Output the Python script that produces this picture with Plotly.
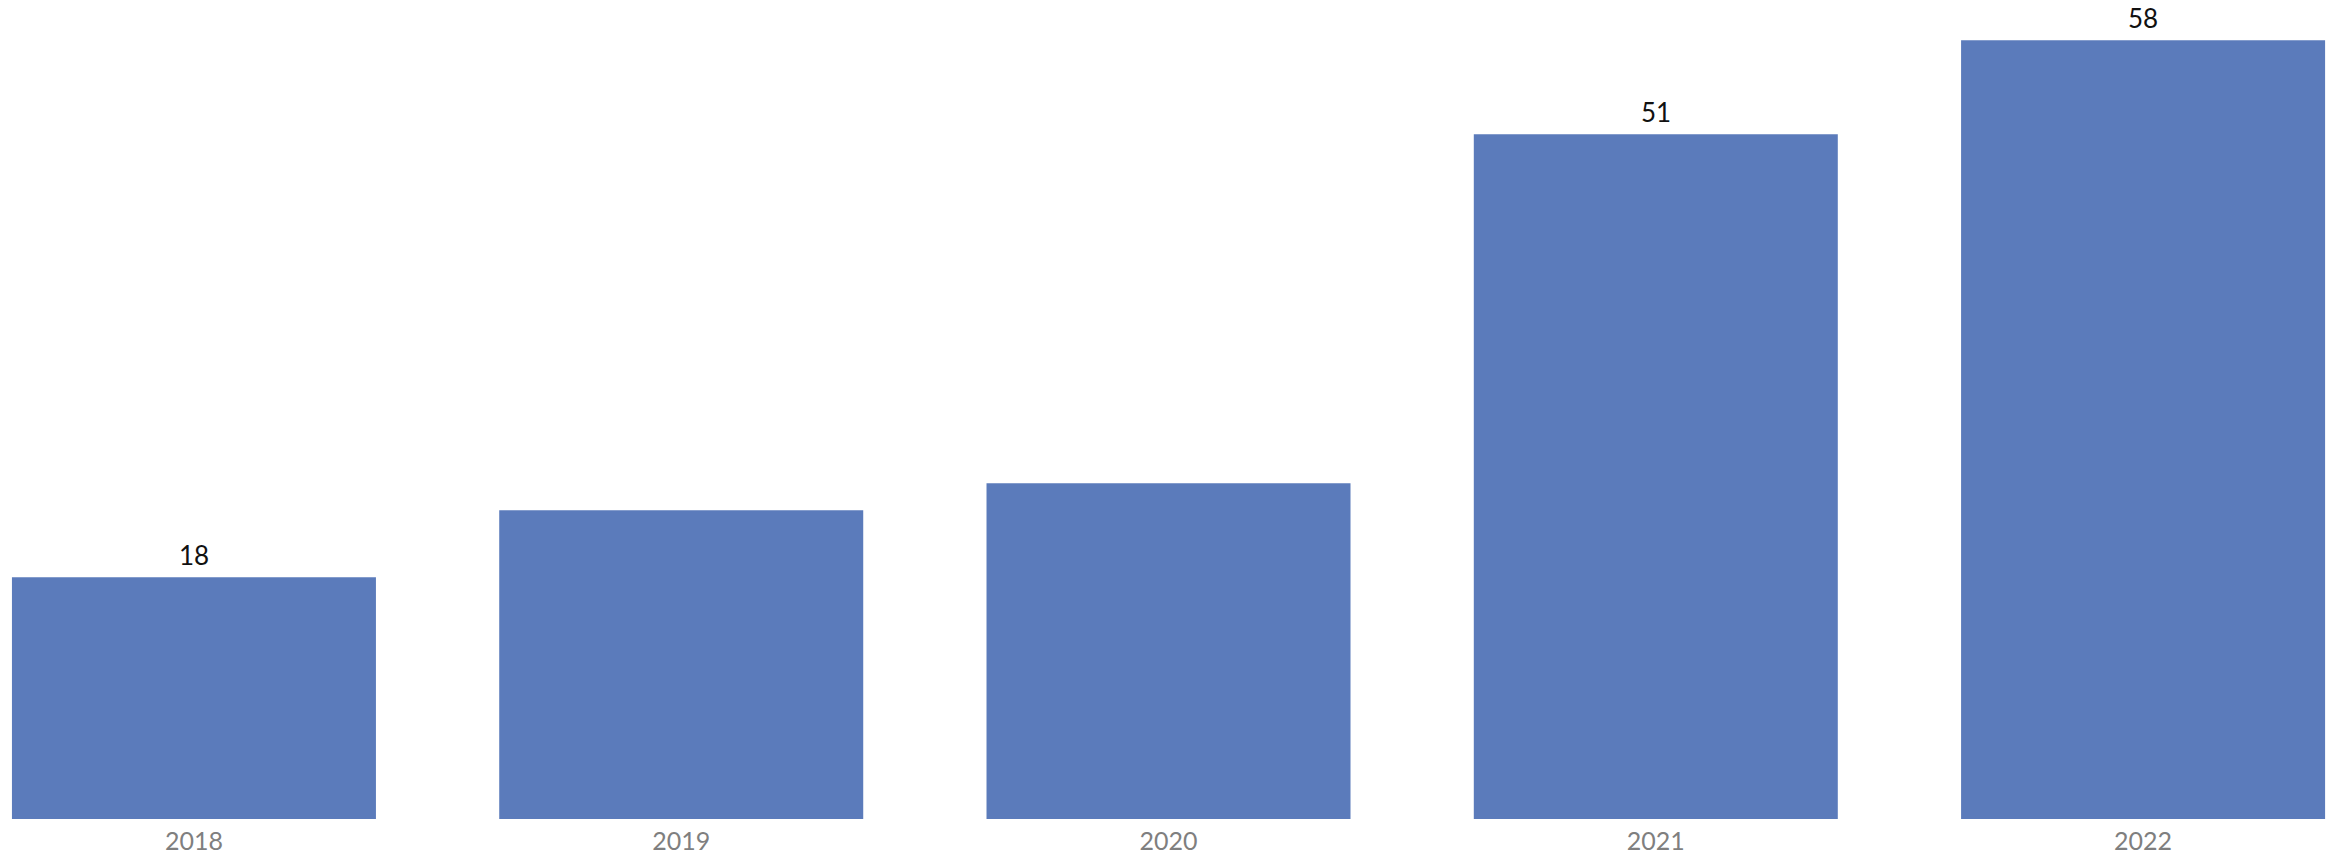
import plotly.graph_objects as go

# Yearly totals
years = ["2018", "2019", "2020", "2021", "2022"]
values = [18, 23, 25, 51, 58]
# Only these bars carry a value label
labelled = [True, False, False, True, True]

BAR_COLOR = "#5b7bbb"

fig = go.Figure()
fig.add_trace(go.Bar(
    x=years,
    y=values,
    marker=dict(color=BAR_COLOR, line=dict(width=0)),
    width=0.747,
    hoverinfo="skip",
))

# value labels above selected bars (x given as category index)
for i, (v, show) in enumerate(zip(values, labelled)):
    if show:
        fig.add_annotation(
            x=i, y=v, xref="x", yref="y", text=str(v), showarrow=False,
            yanchor="bottom", yshift=4,
            font=dict(family="Lato, sans-serif", size=26, color="#111111"),
        )

fig.update_layout(
    width=2338, height=855,
    margin=dict(l=0, r=0, t=0, b=36),
    paper_bgcolor="white", plot_bgcolor="white",
    showlegend=False,
)
fig.update_xaxes(
    type="category",
    range=[-0.398, 4.40],
    showgrid=False, zeroline=False, showline=False, ticks="",
    ticklabelstandoff=5,
    tickfont=dict(family="Lato, sans-serif", size=25, color="#7f7f7f"),
)
fig.update_yaxes(
    range=[0, 61.0],
    showgrid=False, zeroline=False, showline=False,
    showticklabels=False, ticks="",
)

fig.write_html("out.html")
